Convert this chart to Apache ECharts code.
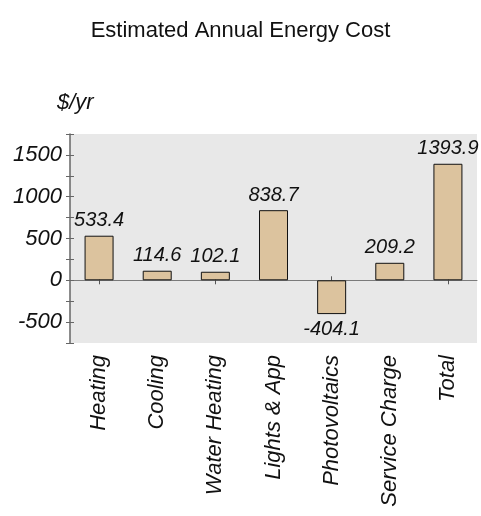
<!DOCTYPE html>
<html>
<head>
<meta charset="utf-8">
<script src="https://cdn.jsdelivr.net/npm/echarts@6/dist/echarts.min.js"></script>
<style>
html,body{margin:0;padding:0;background:#fff;}
#chart{width:481px;height:516px;}
</style>
</head>
<body>
<div id="chart"></div>
<script>
const categories = ['Heating', 'Cooling', 'Water Heating', 'Lights & App', 'Photovoltaics', 'Service Charge', 'Total'];
const costs = [533.4, 114.6, 102.1, 838.7, -404.1, 209.2, 1393.9];
const yTickLabels = [-500, 0, 500, 1000, 1500];

const FONT = '"Liberation Sans", Arial, sans-serif';
const chart = echarts.init(document.getElementById('chart'), null, {renderer: 'canvas'});

const yBase = {
  type: 'value', min: -750, max: 1750, interval: 250,
  splitLine: {show: false}
};

chart.setOption({
  animation: false,
  title: [
    {text: 'Estimated Annual Energy Cost', left: 'center', top: 15,
     textStyle: {fontFamily: FONT, fontSize: 22, fontWeight: 'normal', color: '#111'}},
    {text: '$/yr', left: 52, top: 87,
     textStyle: {fontFamily: FONT, fontSize: 22, fontStyle: 'italic', fontWeight: 'normal', color: '#111'}}
  ],
  grid: {left: 70, right: 4, top: 134, bottom: 173, show: true, backgroundColor: '#e8e8e8', borderWidth: 0, containLabel: false},
  xAxis: [
    {type: 'category', data: categories, position: 'bottom',
     axisLine: {show: false, onZero: false}, axisTick: {show: false},
     axisLabel: {rotate: 90, margin: 12, interval: 0, fontFamily: FONT, fontSize: 22, fontStyle: 'italic', color: '#111'}},
    {type: 'category', data: categories, position: 'bottom',
     axisLine: {show: true, onZero: true, lineStyle: {color: '#7a7a7a', width: 1}},
     axisTick: {show: true, alignWithLabel: true, length: 4, lineStyle: {color: '#555'}},
     axisLabel: {show: false}},
    {type: 'category', data: categories, position: 'bottom',
     axisLine: {show: false, onZero: true},
     axisTick: {show: true, inside: true, alignWithLabel: true, length: 4, lineStyle: {color: '#555'}},
     axisLabel: {show: false}}
  ],
  yAxis: [
    Object.assign({}, yBase, {
      axisLine: {show: true, lineStyle: {color: '#666', width: 1.5}},
      axisTick: {show: true, length: 4, lineStyle: {color: '#666'}},
      axisLabel: {margin: 8, fontFamily: FONT, fontSize: 22, fontStyle: 'italic', color: '#111',
        formatter: v => yTickLabels.indexOf(v) >= 0 ? String(v) : ''}
    }),
    Object.assign({}, yBase, {
      position: 'left',
      axisLine: {show: false},
      axisTick: {show: true, inside: true, length: 4, lineStyle: {color: '#666'}},
      axisLabel: {show: false}
    })
  ],
  series: [{
    type: 'bar', xAxisIndex: 0, yAxisIndex: 0, barWidth: 29,
    itemStyle: {color: '#dcc39e', borderColor: '#111', borderWidth: 1},
    label: {show: true, position: 'top', distance: 5, fontFamily: FONT, fontSize: 20, fontStyle: 'italic', color: '#111',
      formatter: p => p.value.toFixed(1)},
    data: costs.map(v => v < 0 ? {value: v, label: {position: 'bottom'}} : v)
  }]
});
</script>
</body>
</html>
